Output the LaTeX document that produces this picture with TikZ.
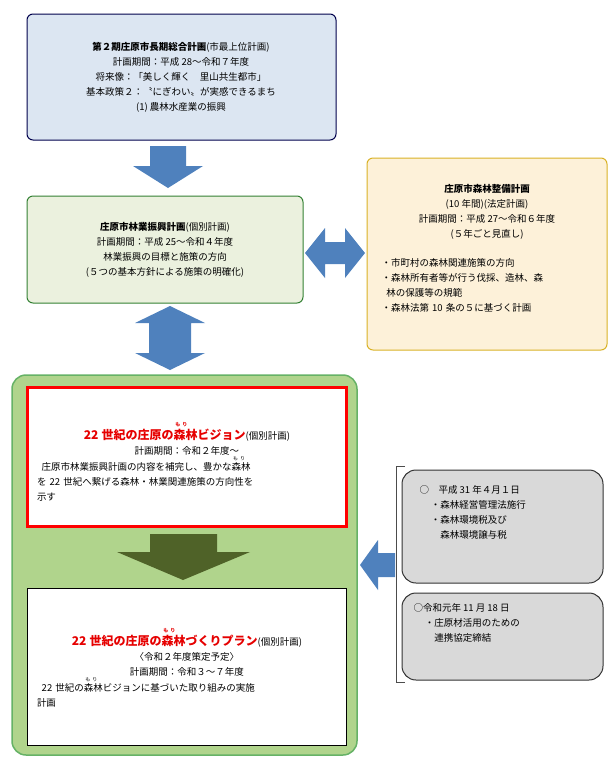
\documentclass[tikz,border=0pt]{standalone}
\usepackage{fontspec}
\setmainfont{Noto Sans CJK JP}
\usetikzlibrary{shapes.arrows,positioning}
\definecolor{boxblue}{RGB}{220,230,242}
\definecolor{boxgreen}{RGB}{235,241,222}
\definecolor{boxcream}{RGB}{253,241,217}
\definecolor{arrowblue}{RGB}{79,129,189}
\definecolor{biggreen}{RGB}{176,212,140}
\definecolor{darkarrow}{RGB}{79,98,40}
\definecolor{redtitle}{RGB}{230,0,0}
\newcommand{\mori}{\rlap{\raisebox{1.1em}{\hspace{0.15em}\tiny も\hspace{0.4em}り}}森林}

\begin{document}
\begin{tikzpicture}[x=1pt,y=-1pt,font=\fontsize{9.5}{15}\selectfont,
  plan/.style={draw,rounded corners=6pt,line width=1pt,align=center,inner sep=0pt},
  bluearrow/.style={fill=arrowblue,draw=none}]
\useasboundingbox (0,0) rectangle (616,764);
% top plan
\draw[plan,draw=black!70!blue,fill=boxblue] (27,14) rectangle (336,140);
\node[align=center] (top) at (181,77) {{\bfseries 第２期庄原市長期総合計画}(市最上位計画)\\
計画期間：平成 28～令和７年度\\
将来像：「美しく輝く　里山共生都市」\\
基本政策２：〝にぎわい〟が実感できるまち\\
(1) 農林水産業の振興};
\fill[bluearrow] (150,146) -- (186,146) -- (186,166) -- (203,166) -- (168,188) -- (133,166) -- (150,166) -- cycle;
% forestry plan
\draw[plan,draw=black!50!green!60!gray,fill=boxgreen] (27,196) rectangle (303,303);
\node[align=center] (shinko) at (165,250) {{\bfseries 庄原市林業振興計画}(個別計画)\\
計画期間：平成 25～令和４年度\\
林業振興の目標と施策の方向\\
(５つの基本方針による施策の明確化)};
% double arrow horizontal
\fill[bluearrow] (305,253) -- (325,228) -- (325,242) -- (345,242) -- (345,228) -- (365,253) -- (345,278) -- (345,264) -- (325,264) -- (325,278) -- cycle;
% right plan
\draw[plan,draw=brown!60!yellow,fill=boxcream] (367,158) rectangle (607,350);
\node[align=center] (seibi) at (487,212) {{\bfseries 庄原市森林整備計画}\\
(10 年間)(法定計画)\\
計画期間：平成 27～令和６年度\\
(５年ごと見直し)};
\node[align=left,text width=220pt,anchor=north west] (seibilist) at (378,255) {・市町村の森林関連施策の方向\\
・森林所有者等が行う伐採、造林、森\\
\hspace*{0.5em}林の保護等の規範\\
・森林法第 10 条の５に基づく計画};
% double arrow vertical
\fill[bluearrow] (170,306) -- (205,323) -- (191,323) -- (191,353) -- (205,353) -- (170,370) -- (135,353) -- (149,353) -- (149,323) -- (135,323) -- cycle;
% green frame
\draw[plan,rounded corners=14pt,draw=green!50!black!60,line width=1.5pt,fill=biggreen] (12,375) rectangle (357,755);
% vision
\draw[line width=3pt,draw=red,fill=white] (27,387) rectangle (346,526);
\node[align=left,text width=300pt] (vision) at (187,462) {{\centering{\bfseries\color{redtitle}\large 22 世紀の庄原の\mori ビジョン}(個別計画)\\
計画期間：令和２年度～\par}
\hspace*{0.5em}庄原市林業振興計画の内容を補完し、豊かな\mori\\
を 22 世紀へ繋げる森林・林業関連施策の方向性を\\
示す};
\fill[darkarrow] (150,534) -- (217,534) -- (217,552) -- (250,552) -- (183,580) -- (117,552) -- (150,552) -- cycle;
% plan box
\draw[line width=1pt,draw=black,fill=white] (27,588) rectangle (346,745);
\node[align=left,text width=300pt] (plan) at (187,668) {{\centering{\bfseries\color{redtitle}\large 22 世紀の庄原の\mori づくりプラン}(個別計画)\\
〈令和２年度策定予定〉\\
計画期間：令和３～７年度\par}
\hspace*{0.5em}22 世紀の\mori ビジョンに基づいた取り組みの実施\\
計画};
% left arrow
\fill[bluearrow] (360,565) -- (378,540) -- (378,553) -- (395,553) -- (395,577) -- (378,577) -- (378,590) -- cycle;
\draw[line width=0.6pt,black!70] (405,466) -- (396,466) -- (396,682) -- (405,682);
% gray boxes
\draw[plan,rounded corners=14pt,draw=black!80,fill=black!15] (402,470) rectangle (603,583);
\node[align=left,anchor=north west] (heisei) at (416,482) {○　平成 31 年４月１日\\
\hspace*{1.2em}・森林経営管理法施行\\
\hspace*{1.2em}・森林環境税及び\\
\hspace*{2.2em}森林環境譲与税};
\draw[plan,rounded corners=14pt,draw=black!80,fill=black!15] (402,593) rectangle (603,680);
\node[align=left,anchor=north west] (reiwa) at (410,600) {○令和元年 11 月 18 日\\
\hspace*{1.2em}・庄原材活用のための\\
\hspace*{2.2em}連携協定締結};
\end{tikzpicture}
\end{document}
